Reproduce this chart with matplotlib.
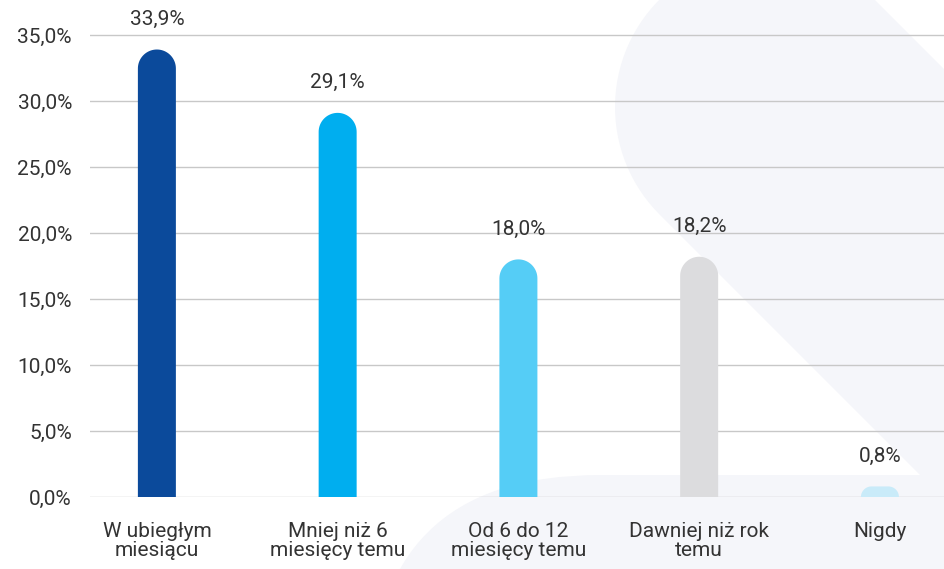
import numpy as np
import matplotlib.pyplot as plt
from matplotlib.path import Path
from matplotlib.patches import PathPatch, Polygon, FancyBboxPatch
from matplotlib.transforms import Affine2D

categories = ['W ubiegłym\nmiesiącu', 'Mniej niż 6\nmiesięcy temu', 'Od 6 do 12\nmiesięcy temu',
              'Dawniej niż rok\ntemu', 'Nigdy']
values = [33.9, 29.1, 18.0, 18.2, 0.8]
labels = ['33,9%', '29,1%', '18,0%', '18,2%', '0,8%']
colors = ['#0b4a9b', '#00aeef', '#55cdf6', '#dcdcde', '#c9ebf9']
yticks = [0, 5, 10, 15, 20, 25, 30, 35]

W, H = 945, 569
plt.rcParams['font.family'] = ['Roboto', 'DejaVu Sans']
fig = plt.figure(figsize=(W / 100, H / 100), dpi=100)

# background decoration, drawn in pixel coords (origin top-left)
px = Affine2D().scale(1 / W, -1 / H).translate(0, 1) + fig.transFigure
bg = '#f5f6fa'
c = np.array([767, 107])
r = 152
d = np.array([1, 1]) / np.sqrt(2)
n = np.array([-1, 1]) / np.sqrt(2)
ang = np.linspace(0, np.pi, 60)
cap = c + r * (np.outer(np.cos(ang), n) - np.outer(np.sin(ang), d))
far = c + 900 * d
band = np.vstack([cap, far - r * n, far + r * n])
fig.patches.append(Polygon(band, closed=True, transform=px, facecolor=bg, edgecolor='none', zorder=-2))
fig.patches.append(FancyBboxPatch((370, 475), 900, 400, boxstyle='round,pad=0,rounding_size=230',
                                  transform=px, facecolor=bg, edgecolor='none', zorder=-2))

ax = fig.add_axes([90 / W, 1 - 497 / H, 855 / W, 497 / H])
ax.set_facecolor('none')
ax.set_xlim(-0.37, 4.36)
ax.set_ylim(0, 37.65)

# pixel scale of the axes, used for the rounded bar tops
sx = 855 / (4.36 + 0.37)
sy = 497 / 37.65
bw = 38 / sx

x = np.arange(len(values))
for xi, v, col in zip(x, values, colors):
    rp = min(19, v * sy)
    rx, ry = rp / sx, rp / sy
    t = np.linspace(0, np.pi / 2, 20)
    left, right = xi - bw / 2, xi + bw / 2
    pts = [(left, 0), (right, 0), (right, v - ry)]
    pts += [(right - rx + rx * np.cos(a), v - ry + ry * np.sin(a)) for a in t]
    pts += [(left + rx - rx * np.sin(a), v - ry + ry * np.cos(a)) for a in t]
    pts += [(left, 0)]
    ax.add_patch(PathPatch(Path(pts), facecolor=col, edgecolor='none', zorder=3))
    ax.annotate(labels[xi], (xi, v), xytext=(0, 15), textcoords='offset points',
                ha='center', va='bottom', fontsize=15, color='#333333')

ax.set_yticks(yticks)
ax.yaxis.set_major_formatter(plt.FuncFormatter(lambda v, p: ('%.1f%%' % v).replace('.', ',')))
ax.set_xticks(x)
ax.set_xticklabels(categories, linespacing=1.0)
ax.grid(axis='y', color='#c8c8c8', linewidth=1, zorder=1)
ax.set_axisbelow(True)
for s in ax.spines.values():
    s.set_visible(False)
ax.tick_params(axis='both', length=0, labelsize=15, labelcolor='#333333')
ax.tick_params(axis='y', pad=13)
ax.tick_params(axis='x', pad=18)

fig.savefig('out.png', dpi=100)
